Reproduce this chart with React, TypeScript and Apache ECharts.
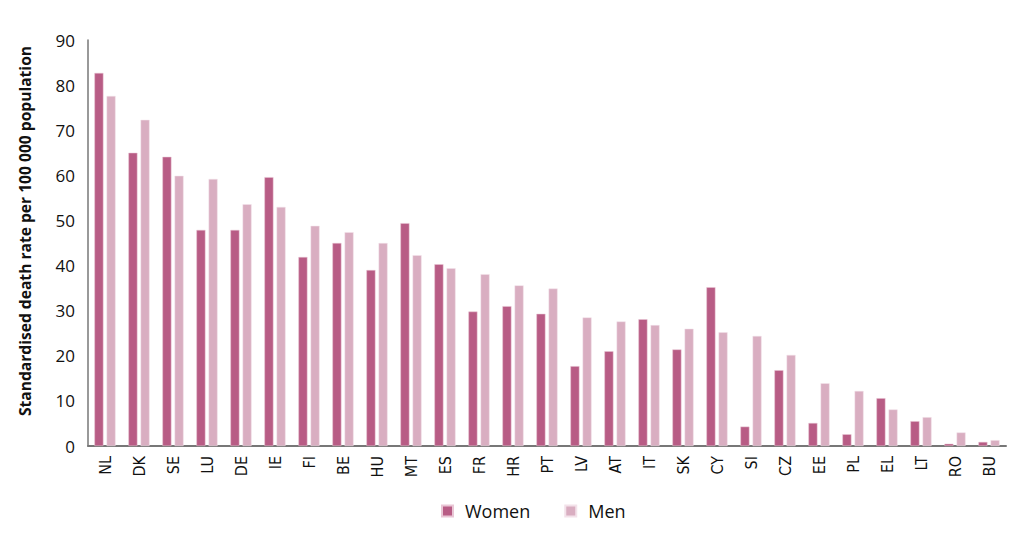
import React, { useEffect, useRef } from "react";
import * as echarts from "echarts";

const categories = ["NL","DK","SE","LU","DE","IE","FI","BE","HU","MT","ES","FR","HR","PT","LV","AT","IT","SK","CY","SI","CZ","EE","PL","EL","LT","RO","BU"];
const women = [82.7,65.0,64.1,47.9,47.9,59.6,41.9,45.0,39.0,49.4,40.3,29.8,31.0,29.3,17.7,21.0,28.1,21.4,35.2,4.3,16.8,5.1,2.6,10.6,5.5,0.5,0.9];
const men = [77.6,72.3,59.9,59.2,53.6,53.0,48.8,47.4,45.0,42.3,39.4,38.1,35.6,34.9,28.5,27.6,26.8,26.0,25.2,24.4,20.2,13.9,12.2,8.1,6.4,3.0,1.3];
const yTitle = "Standardised death rate per 100 000 population";

export default function App() {
  const ref = useRef<HTMLDivElement>(null);
  useEffect(() => {
    if (!ref.current) return;
    const chart = echarts.init(ref.current, null, { renderer: "svg" });
    chart.setOption({
      animation: false,
      textStyle: { fontFamily: "Open Sans, Noto Sans, sans-serif" },
      grid: { left: 80, right: 12, top: 32, bottom: 90 },
      legend: {
        top: 489,
        left: 428,
        itemWidth: 11,
        itemHeight: 11,
        itemGap: 34,
        icon: "rect",
        textStyle: { fontSize: 18, color: "#111", fontFamily: "Open Sans, sans-serif", padding: [0, 0, 0, 7] },
        data: ["Women", "Men"],
      },
      graphic: [
        {
          type: "text",
          x: 17,
          y: 223,
          rotation: Math.PI / 2,
          style: {
            text: yTitle,
            fontSize: 15.6,
            fontWeight: "bold",
            fill: "#111",
            fontFamily: "Open Sans, sans-serif",
            align: "center",
            verticalAlign: "middle",
          },
        },
      ],
      xAxis: {
        type: "category",
        data: categories,
        axisLine: { lineStyle: { color: "#777", width: 2 } },
        axisTick: { show: false },
        axisLabel: {
          rotate: 90,
          fontSize: 16,
          color: "#111",
          margin: 10,
          fontFamily: "Liberation Sans Narrow, DejaVu Sans Condensed, sans-serif",
        },
      },
      yAxis: {
        type: "value",
        min: 0,
        max: 90,
        interval: 10,
        axisLine: { show: true, lineStyle: { color: "#777", width: 1.5 } },
        axisTick: { show: false },
        splitLine: { show: false },
        axisLabel: { fontSize: 17, color: "#111", margin: 13 },
      },
      series: [
        {
          name: "Women",
          type: "bar",
          data: women,
          barWidth: 9,
          barGap: "35%",
          itemStyle: { color: "#b85c85", borderColor: "#e9c6d5", borderWidth: 0.5 },
        },
        {
          name: "Men",
          type: "bar",
          data: men,
          barWidth: 9,
          itemStyle: { color: "#d9aec1", borderColor: "#f3e2ea", borderWidth: 0.5 },
        },
      ],
    });
    return () => chart.dispose();
  }, []);
  return <div ref={ref} style={{ width: 1010, height: 528 }} />;
}
